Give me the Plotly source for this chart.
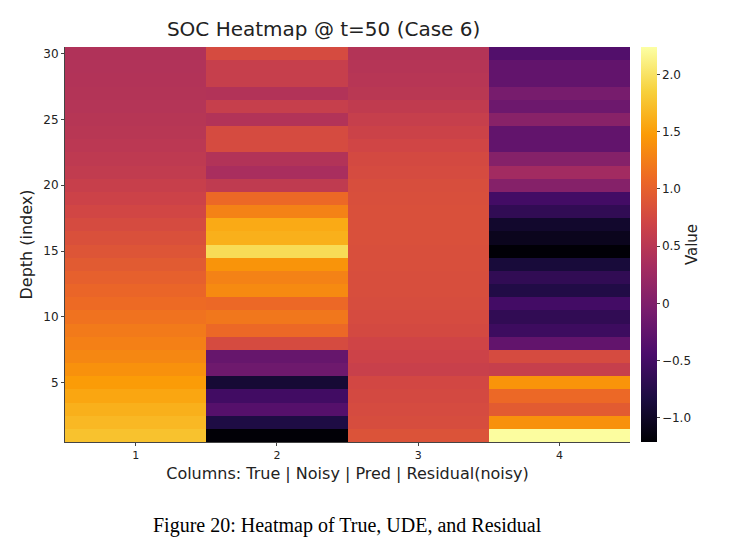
import plotly.graph_objects as go

# 深度 1..30 (自下而上), 四列: True | Noisy | Pred | Residual(noisy)
depth = list(range(1, 31))
cols = [1, 2, 3, 4]

# 以下各列按深度 30 -> 1 排列
true_vals = [0.42, 0.43, 0.44, 0.45, 0.46, 0.48, 0.50, 0.52, 0.55, 0.58,
             0.63, 0.68, 0.73, 0.78, 0.83, 0.88, 0.94, 1.00, 1.05, 1.10,
             1.16, 1.22, 1.27, 1.32, 1.40, 1.48, 1.55, 1.62, 1.68, 1.75]
noisy_vals = [0.78, 0.62, 0.62, 0.44, 0.62, 0.44, 0.78, 0.78, 0.44, 0.36,
              0.56, 1.08, 1.28, 1.58, 1.62, 1.95, 1.42, 1.28, 1.34, 1.08,
              1.20, 1.08, 0.78, -0.21, -0.14, -0.90, -0.52, -0.35, -0.80, -1.20]
pred_vals = [0.45, 0.47, 0.49, 0.51, 0.57, 0.62, 0.67, 0.72, 0.76, 0.78,
             0.81, 0.82, 0.83, 0.83, 0.83, 0.82, 0.82, 0.81, 0.81, 0.80,
             0.78, 0.76, 0.71, 0.68, 0.64, 0.74, 0.76, 0.78, 0.80, 0.86]
resid_vals = [-0.38, -0.24, -0.24, -0.07, -0.15, 0.08, -0.24, -0.24, 0.05, 0.30,
              0.05, -0.50, -0.65, -0.95, -1.05, -1.20, -0.87, -0.65, -0.78, -0.50,
              -0.65, -0.55, -0.24, 0.78, 0.62, 1.42, 1.08, 0.95, 1.40, 2.22]

columns = [true_vals, noisy_vals, pred_vals, resid_vals]
z = [[c[29 - (d - 1)] for c in columns] for d in depth]

fig = go.Figure(go.Heatmap(
    x=cols, y=depth, z=z,
    colorscale='Inferno', zmin=-1.21, zmax=2.24,
    colorbar=dict(
        title=dict(text='Value', side='right', font=dict(size=15)),
        tickvals=[-1, -0.5, 0, 0.5, 1, 1.5, 2],
        ticktext=['\u22121.0', '\u22120.5', '0', '0.5', '1.0', '1.5', '2.0'],
        ticks='outside', ticklen=3, thickness=16, len=1.0, ypad=0,
        x=1.02, xpad=0, outlinewidth=0, tickfont=dict(size=12)
    )
))

fig.update_layout(
    width=734, height=547,
    paper_bgcolor='white', plot_bgcolor='white',
    font=dict(family='DejaVu Sans', color='#222'),
    title=dict(text='SOC Heatmap @ t=50 (Case 6)', x=0.43, y=0.975,
               font=dict(size=20)),
    margin=dict(l=57, r=112, t=39, b=113),
    annotations=[dict(text='Figure 20: Heatmap of True, UDE, and Residual',
                      xref='paper', yref='paper', x=0.5, y=-0.245,
                      showarrow=False, xanchor='center',
                      font=dict(family='Liberation Serif', size=20, color='black'))]
)
fig.update_xaxes(title=dict(text='Columns: True | Noisy | Pred | Residual(noisy)',
                            font=dict(size=16), standoff=6),
                 tickvals=cols, ticks='outside', ticklen=3,
                 range=[0.5, 4.5], showline=True, linecolor='#444', mirror=False,
                 tickfont=dict(size=11))
fig.update_yaxes(title=dict(text='Depth (index)', font=dict(size=16), standoff=6),
                 tickvals=[5, 10, 15, 20, 25, 30], ticks='outside', ticklen=3,
                 range=[0.5, 30.5], showline=True, linecolor='#444',
                 tickfont=dict(size=12))

fig.write_html('out.html')
